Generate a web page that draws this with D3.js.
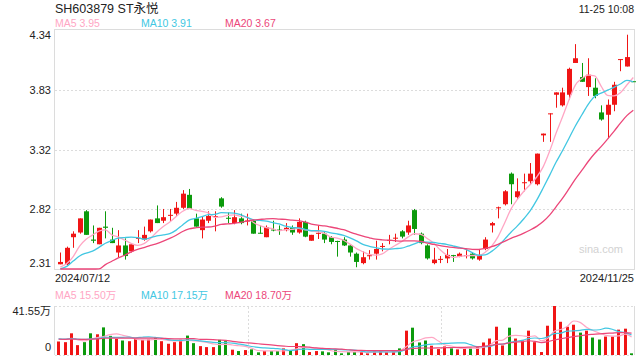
<!DOCTYPE html>
<html>
<head>
<meta charset="utf-8">
<script src="https://cdn.jsdelivr.net/npm/d3@7"></script>
<style>
  body { margin: 0; background: #fff; }
  svg { display: block; font-family: Arial, "Liberation Sans", "Noto Sans CJK SC", sans-serif; }
</style>
</head>
<body>
<svg id="chart" width="640" height="360"></svg>
<script>
// trading days shown, 2024/07/12 .. 2024/11/25
const dates = [
  '2024/07/12','2024/07/15','2024/07/16','2024/07/17','2024/07/18','2024/07/19','2024/07/22','2024/07/23','2024/07/24','2024/07/25',
  '2024/07/26','2024/07/29','2024/07/30','2024/07/31','2024/08/01','2024/08/02','2024/08/05','2024/08/06','2024/08/07','2024/08/08',
  '2024/08/09','2024/08/12','2024/08/13','2024/08/14','2024/08/15','2024/08/16','2024/08/19','2024/08/20','2024/08/21','2024/08/22',
  '2024/08/23','2024/08/26','2024/08/27','2024/08/28','2024/08/29','2024/08/30','2024/09/02','2024/09/03','2024/09/04','2024/09/05',
  '2024/09/06','2024/09/09','2024/09/10','2024/09/11','2024/09/12','2024/09/13','2024/09/18','2024/09/19','2024/09/20','2024/09/23',
  '2024/09/24','2024/09/25','2024/09/26','2024/09/27','2024/09/30','2024/10/08','2024/10/09','2024/10/10','2024/10/11','2024/10/14',
  '2024/10/15','2024/10/16','2024/10/17','2024/10/18','2024/10/21','2024/10/22','2024/10/23','2024/10/24','2024/10/25','2024/10/28',
  '2024/10/29','2024/10/30','2024/10/31','2024/11/01','2024/11/04','2024/11/05','2024/11/06','2024/11/07','2024/11/08','2024/11/11',
  '2024/11/12','2024/11/13','2024/11/14','2024/11/15','2024/11/18','2024/11/19','2024/11/20','2024/11/21','2024/11/22','2024/11/25'
];

const open = [
  2.35, 2.35, 2.58, 2.62, 2.80, 2.56, 2.52, 2.67, 2.56, 2.45,
  2.51, 2.46, 2.57, 2.56, 2.63, 2.74, 2.72, 2.765, 2.78, 2.83,
  2.94, 2.74, 2.64, 2.72, 2.755, 2.91, 2.745, 2.70, 2.74, 2.72,
  2.72, 2.618, 2.58, 2.645, 2.645, 2.64, 2.665, 2.62, 2.71, 2.55,
  2.615, 2.61, 2.58, 2.548, 2.56, 2.51, 2.44, 2.36, 2.425, 2.44,
  2.504, 2.555, 2.574, 2.63, 2.62, 2.81, 2.61, 2.51, 2.36, 2.394,
  2.40, 2.428, 2.415, 2.426, 2.44, 2.39, 2.48, 2.68, 2.832, 2.86,
  3.12, 2.92, 3.045, 3.055, 3.03, 3.445, 3.63, 3.79, 3.70, 3.79,
  4.06, 3.94, 3.855, 3.85, 3.64, 3.62, 3.705, 4.09, 4.03, 3.905
];
const high = [
  2.45, 2.50, 2.63, 2.74, 2.81, 2.68, 2.66, 2.80, 2.66, 2.64,
  2.57, 2.52, 2.64, 2.67, 2.73, 2.85, 2.82, 2.82, 2.88, 2.98,
  2.99, 2.78, 2.76, 2.80, 2.80, 2.92, 2.79, 2.81, 2.78, 2.78,
  2.73, 2.68, 2.68, 2.72, 2.68, 2.70, 2.68, 2.74, 2.72, 2.60,
  2.68, 2.63, 2.59, 2.55, 2.58, 2.52, 2.45, 2.46, 2.47, 2.55,
  2.53, 2.60, 2.61, 2.64, 2.72, 2.82, 2.62, 2.52, 2.49, 2.42,
  2.48, 2.43, 2.45, 2.47, 2.45, 2.48, 2.58, 2.71, 2.84, 2.98,
  3.13, 3.08, 3.12, 3.21, 3.29, 3.46, 3.632, 3.81, 3.85, 4.02,
  4.22, 4.06, 4.10, 3.93, 3.70, 3.75, 3.90, 4.093, 4.30, 3.905
];
const low = [
  2.35, 2.34, 2.49, 2.61, 2.60, 2.53, 2.52, 2.57, 2.53, 2.41,
  2.39, 2.45, 2.53, 2.55, 2.62, 2.70, 2.70, 2.71, 2.76, 2.82,
  2.82, 2.67, 2.57, 2.70, 2.63, 2.83, 2.70, 2.69, 2.69, 2.68,
  2.61, 2.61, 2.58, 2.63, 2.60, 2.63, 2.60, 2.61, 2.58, 2.55,
  2.565, 2.53, 2.52, 2.415, 2.505, 2.415, 2.325, 2.35, 2.39, 2.39,
  2.46, 2.52, 2.54, 2.57, 2.60, 2.60, 2.52, 2.39, 2.35, 2.36,
  2.36, 2.37, 2.41, 2.40, 2.39, 2.38, 2.47, 2.62, 2.74, 2.85,
  2.86, 2.90, 2.97, 3.03, 3.02, 3.39, 3.39, 3.68, 3.69, 3.75,
  4.06, 3.90, 3.78, 3.76, 3.57, 3.42, 3.65, 3.99, 4.03, 3.90
];
const close = [
  2.37, 2.49, 2.61, 2.74, 2.60, 2.55, 2.66, 2.66, 2.53, 2.51,
  2.42, 2.52, 2.575, 2.60, 2.73, 2.70, 2.75, 2.77, 2.83, 2.95,
  2.82, 2.67, 2.73, 2.76, 2.76, 2.84, 2.74, 2.75, 2.70, 2.722,
  2.61, 2.614, 2.665, 2.642, 2.642, 2.66, 2.62, 2.71, 2.585, 2.60,
  2.617, 2.56, 2.54, 2.545, 2.51, 2.45, 2.37, 2.41, 2.427, 2.48,
  2.506, 2.557, 2.576, 2.585, 2.68, 2.65, 2.53, 2.40, 2.39, 2.396,
  2.43, 2.426, 2.44, 2.428, 2.40, 2.43, 2.56, 2.70, 2.834, 2.97,
  3.03, 2.97, 3.047, 3.12, 3.29, 3.46, 3.632, 3.81, 3.81, 4.01,
  4.10, 3.90, 3.96, 3.78, 3.58, 3.705, 3.875, 4.093, 4.11, 3.90
];
// volume, unit 万
const volume = [
  11.45, 10.87, 18.39, 8.36, 10.87, 18.39, 17.56, 23.41, 16.22, 13.71,
  12.29, 11.70, 13.71, 12.87, 13.38, 14.55, 11.70, 9.53, 10.87, 12.87,
  16.47, 10.03, 7.52, 6.69, 6.69, 12.87, 11.70, 4.51, 3.34, 4.18,
  4.77, 2.26, 3.34, 3.34, 3.34, 5.60, 3.93, 10.03, 9.20, 2.51,
  3.34, 3.09, 2.26, 4.18, 1.42, 2.51, 2.51, 2.51, 1.42, 3.09,
  3.09, 2.51, 3.09, 5.60, 20.65, 23.16, 10.62, 12.29, 7.86, 5.02,
  7.27, 5.60, 4.77, 5.60, 5.60, 6.69, 10.62, 13.96, 23.99, 8.11,
  23.16, 13.96, 12.29, 20.65, 10.87, 2.51, 24.83, 41.55, 28.17, 23.99,
  25.67, 18.98, 20.65, 14.80, 13.13, 15.63, 15.63, 21.49, 22.32, 1.42
];
// estimated closes / volumes of the 19 sessions before 07/12 (needed for the MA lines)
const prevCloses = [1.98, 1.96, 1.95, 1.94, 1.93, 1.95, 1.94, 1.96, 1.95, 1.97, 1.93, 2.16, 2.30, 2.36, 2.38, 2.34, 2.31, 2.30, 2.31];
const prevVolumes = [12.5, 13.0, 12.0, 13.5, 14.0, 12.8, 13.2, 12.6, 13.8, 13.0, 12.4, 13.6, 14.2, 12.9, 13.5, 14.8, 13.9, 14.5, 15.2];

const yTicks = [4.34, 3.83, 3.32, 2.82, 2.31];
const volTicks = [0, 41.55];
const volTickText = ['0', '41.55万'];
const maPeriods = [5, 10, 20];
const maNames = ['MA5', 'MA10', 'MA20'];
const maColors = ['#ffa6c4', '#42c7e2', '#ec4679'];
const maPriceText = ['3.95', '3.91', '3.67'];
const maVolText = ['15.50万', '17.15万', '18.70万'];

const upColor = '#f01515';
const downColor = '#0c9a0c';
const gridColor = '#dcdcdc';
const textColor = '#222';

const svg = d3.select('#chart');

const x = d3.scaleBand().domain(d3.range(dates.length)).range([57.1, 636.5]);
const cx = i => x(i) + x.bandwidth() / 2;
const y = d3.scaleLinear().domain([d3.min(yTicks), d3.max(yTicks)]).range([269, 30]);
const yMA = y.copy().clamp(true);
const yv = d3.scaleLinear().domain(d3.extent(volTicks)).range([355, 306]);
const yvMA = yv.copy().clamp(true);

function movingAvg(prev, data, n) {
    const all = prev.concat(data);
    return data.map((d, i) => d3.mean(all.slice(prev.length + i - n + 1, prev.length + i + 1)));
}

// ---------- header
svg.append('text').attr('x', 55).attr('y', 13)
    .attr('font-size', 12.5).attr('fill', textColor).text('SH603879 ST永悦');
svg.append('text').attr('x', 634).attr('y', 13).attr('text-anchor', 'end')
    .attr('font-size', 10.5).attr('fill', textColor).text('11-25 10:08');

const legendX = [55, 141, 225];
maNames.forEach((name, k) => {
    svg.append('text').attr('x', legendX[k]).attr('y', 27)
        .attr('font-size', 10.5).attr('fill', maColors[k])
        .text(name + ' ' + maPriceText[k]);
    svg.append('text').attr('x', legendX[k]).attr('y', 299)
        .attr('font-size', 10.5).attr('fill', maColors[k])
        .text(name + ' ' + maVolText[k]);
});

// ---------- price panel frame + grid
const main = svg.append('g');
main.append('rect')
    .attr('x', 54.5).attr('y', 29.5).attr('width', 580).attr('height', 240)
    .attr('fill', 'none').attr('stroke', gridColor);

main.selectAll('line.grid')
    .data(yTicks.slice(1, -1))
    .join('line')
    .attr('class', 'grid')
    .attr('x1', 55).attr('x2', 634)
    .attr('y1', d => Math.round(y(d)) + 0.5).attr('y2', d => Math.round(y(d)) + 0.5)
    .attr('stroke', gridColor).attr('stroke-dasharray', '2,2');

main.selectAll('text.ytick')
    .data(yTicks)
    .join('text')
    .attr('class', 'ytick')
    .attr('x', 51).attr('text-anchor', 'end')
    .attr('y', d => Math.min(Math.max(y(d), 35), 263) + 4)
    .attr('font-size', 11).attr('fill', textColor)
    .text(d => d.toFixed(2));

// watermark
main.append('text').attr('x', 623).attr('y', 253).attr('text-anchor', 'end')
    .attr('font-size', 11).attr('fill', '#d2d2d2').text('sina.com');

// date labels
svg.append('text').attr('x', 55).attr('y', 282)
    .attr('font-size', 11).attr('fill', textColor).text(dates[0]);
svg.append('text').attr('x', 634).attr('y', 282).attr('text-anchor', 'end')
    .attr('font-size', 11).attr('fill', textColor).text(dates[dates.length - 1]);

// ---------- candles
const idx = d3.range(dates.length);
const candles = main.append('g').selectAll('g')
    .data(idx)
    .join('g')
    .attr('fill', i => close[i] >= open[i] ? upColor : downColor)
    .attr('stroke', i => close[i] >= open[i] ? upColor : downColor);

candles.append('line')
    .attr('x1', i => Math.round(cx(i)) + 0.5).attr('x2', i => Math.round(cx(i)) + 0.5)
    .attr('y1', i => y(high[i])).attr('y2', i => y(low[i]))
    .attr('stroke-width', 1);

candles.append('rect')
    .attr('x', i => Math.round(cx(i)) - 2)
    .attr('width', 5)
    .attr('y', i => y(Math.max(open[i], close[i])))
    .attr('height', i => Math.max(1, Math.abs(y(open[i]) - y(close[i]))))
    .attr('stroke', 'none');

// ---------- price MA lines
maPeriods.forEach((n, k) => {
    const ma = movingAvg(prevCloses, close, n);
    main.append('path')
        .datum(ma)
        .attr('fill', 'none')
        .attr('stroke', maColors[k])
        .attr('stroke-width', 1.3)
        .attr('d', d3.line().x((d, i) => cx(i)).y(d => yMA(d)).curve(d3.curveMonotoneX));
});

// ---------- volume panel
const vol = svg.append('g');
vol.append('line').attr('x1', 54.5).attr('x2', 54.5).attr('y1', 306).attr('y2', 355).attr('stroke', gridColor);
vol.append('line').attr('x1', 634.5).attr('x2', 634.5).attr('y1', 306).attr('y2', 355).attr('stroke', gridColor);
vol.selectAll('line.hgrid')
    .data([306.5, 355.5])
    .join('line').attr('class', 'hgrid')
    .attr('x1', 55).attr('x2', 634).attr('y1', d => d).attr('y2', d => d)
    .attr('stroke', gridColor).attr('stroke-dasharray', '2,2');
vol.selectAll('line.vgrid')
    .data([1 / 3, 2 / 3])
    .join('line').attr('class', 'vgrid')
    .attr('x1', d => Math.round(54.5 + 580 * d) + 0.5).attr('x2', d => Math.round(54.5 + 580 * d) + 0.5)
    .attr('y1', 307).attr('y2', 355)
    .attr('stroke', gridColor).attr('stroke-dasharray', '2,2');

vol.selectAll('text.vtick')
    .data(volTicks)
    .join('text').attr('class', 'vtick')
    .attr('x', 51).attr('text-anchor', 'end')
    .attr('y', (d, i) => i === 0 ? 351 : 315)
    .attr('font-size', 11).attr('fill', textColor)
    .text((d, i) => volTickText[i]);

vol.append('g').selectAll('rect')
    .data(idx)
    .join('rect')
    .attr('x', i => Math.round(x(i)))
    .attr('width', 3)
    .attr('y', i => yv(volume[i]))
    .attr('height', i => yv(0) - yv(volume[i]))
    .attr('fill', i => close[i] >= open[i] ? upColor : downColor);

maPeriods.forEach((n, k) => {
    const ma = movingAvg(prevVolumes, volume, n);
    vol.append('path')
        .datum(ma)
        .attr('fill', 'none')
        .attr('stroke', maColors[k])
        .attr('stroke-width', 1.2)
        .attr('d', d3.line().x((d, i) => x(i) + 1.5).y(d => yvMA(d)).curve(d3.curveMonotoneX));
});
</script>
</body>
</html>
